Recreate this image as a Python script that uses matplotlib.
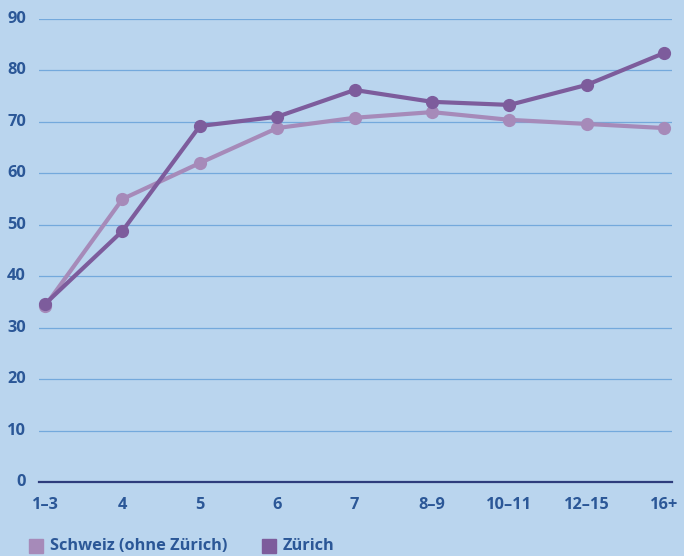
import matplotlib.pyplot as plt
from matplotlib.patches import Rectangle

plt.rcParams['font.family'] = ['Open Sans', 'DejaVu Sans']

categories = ['1\u20133', '4', '5', '6', '7', '8\u20139', '10\u201311', '12\u201315', '16+']
schweiz = [34.2, 55.0, 62.0, 68.8, 70.8, 71.9, 70.4, 69.6, 68.8]
zuerich = [34.6, 48.8, 69.2, 71.0, 76.2, 73.9, 73.3, 77.2, 83.4]
y_ticks = [0, 10, 20, 30, 40, 50, 60, 70, 80, 90]

bg = '#bad5ee'
grid_col = '#74a9dc'
text_col = '#2b5797'
col_schweiz = '#a68ab9'
col_zuerich = '#7d5c9c'

W, H = 684, 556
fig = plt.figure(figsize=(W / 100, H / 100), dpi=100, facecolor=bg)
ax = fig.add_axes([39 / W, 1 - 482 / H, (672 - 39) / W, (482 - 19) / H])
ax.set_facecolor(bg)

x = list(range(len(categories)))
ax.set_xlim(-0.078, len(categories) - 1 + 0.1)
ax.set_ylim(0, 90)

for t in y_ticks[1:]:
    ax.axhline(t, color=grid_col, lw=0.9, zorder=1)
ax.axhline(0, color='#2e3d7c', lw=1.6, zorder=1, clip_on=False)

ax.plot(x, schweiz, color=col_schweiz, lw=3.0, marker='o', ms=8.5,
        clip_on=False, zorder=3, solid_capstyle='round')
ax.plot(x, zuerich, color=col_zuerich, lw=3.0, marker='o', ms=8.5,
        clip_on=False, zorder=4, solid_capstyle='round')

for s in ax.spines.values():
    s.set_visible(False)
ax.set_xticks([])
ax.set_yticks([])

fs = 11.8

# y tick labels, right aligned left of the grid
for t in y_ticks:
    yf = 1 - (482 - t * 463 / 90) / H
    fig.text(26 / W, yf, str(t), ha='right', va='center', color=text_col,
             fontsize=fs, fontweight='bold')

# category labels under the zero line
for i, lab in enumerate(categories):
    ax.annotate(lab, xy=(i, 0), xytext=(0, -16.5), textcoords='offset points',
                ha='center', va='center', color=text_col, fontsize=fs,
                fontweight='bold', annotation_clip=False)

# legend
legend_items = [('Schweiz (ohne Zürich)', col_schweiz, 29), ('Zürich', col_zuerich, 262)]
for label, c, px in legend_items:
    fig.patches.append(Rectangle((px / W, 1 - 553 / H), 14 / W, 14 / H,
                                 transform=fig.transFigure, color=c))
    fig.text((px + 21) / W, 1 - 546 / H, label, ha='left', va='center',
             color=text_col, fontsize=fs, fontweight='bold')

fig.savefig('out.png', dpi=100, facecolor=bg)
